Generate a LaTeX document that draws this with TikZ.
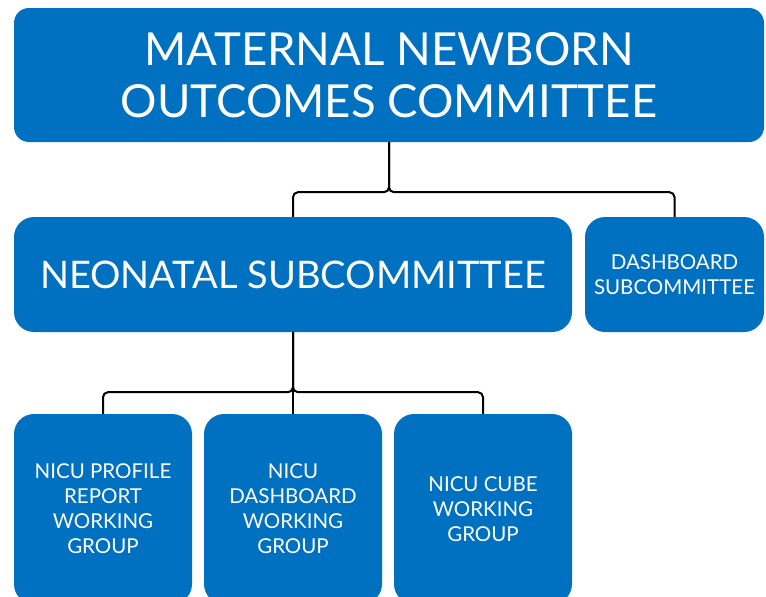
\documentclass[tikz,border=0pt]{standalone}
\usepackage{fontspec}
\setmainfont{Lato}
\definecolor{orgblue}{HTML}{0070C0}
\begin{document}
\begin{tikzpicture}[x=1pt,y=-1pt,
  box/.style={fill=orgblue,text=white,rounded corners=20pt,align=center,inner sep=0pt},
  link/.style={line width=2pt,rounded corners=5pt}]
\useasboundingbox (0,0) rectangle (766,597);
\node[box,rounded corners=15pt,minimum width=750pt,minimum height=134pt,font=\fontsize{45.5}{52}\selectfont](mnoc) at (389,75){MATERNAL NEWBORN\\OUTCOMES COMMITTEE};
\node[box,minimum width=558pt,minimum height=115pt,font=\fontsize{38}{44}\selectfont](neo) at (293,274.5){NEONATAL SUBCOMMITTEE};
\node[box,minimum width=179pt,minimum height=115pt,font=\fontsize{20.5}{25}\selectfont](dash) at (674.5,274.5){DASHBOARD\\SUBCOMMITTEE};
\foreach \x/\n/\t in {103/prof/NICU PROFILE\\REPORT\\WORKING\\GROUP,293/ndash/NICU\\DASHBOARD\\WORKING\\GROUP,483/cube/NICU CUBE\\WORKING\\GROUP}
  \node[box,minimum width=178pt,minimum height=190pt,font=\fontsize{20.5}{25}\selectfont](\n) at (\x,509){\t};
\draw[link](mnoc.south)--++(0,50)-|(neo.north);
\draw[link](mnoc.south)--++(0,50)-|(dash.north);
\draw[link](neo.south)--++(0,60)-|(prof.north);
\draw[link](neo.south)--++(0,60)-|(cube.north);
\draw[link](neo.south)--(ndash.north);
\end{tikzpicture}
\end{document}
